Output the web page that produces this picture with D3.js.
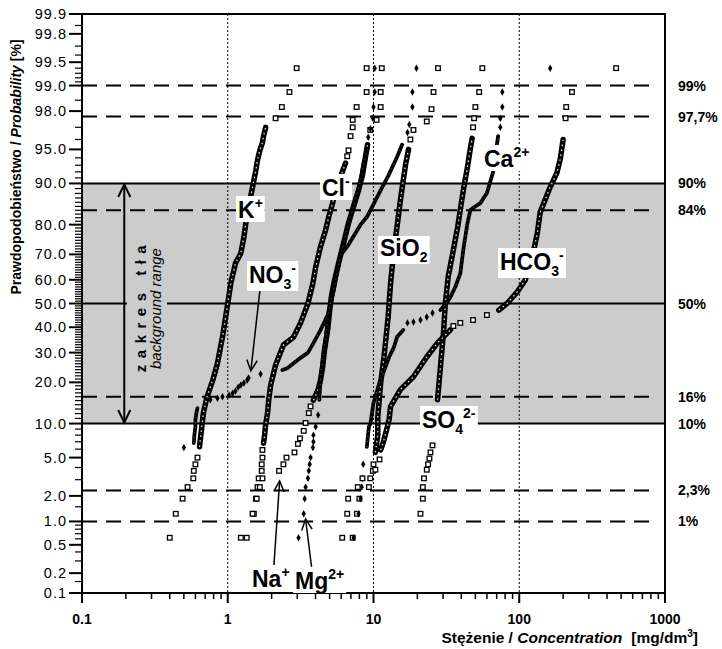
<!DOCTYPE html>
<html>
<head>
<meta charset="utf-8">
<script src="https://cdn.jsdelivr.net/npm/d3@7"></script>
<style>
  body { margin: 0; background: #fff; }
  text { font-family: "Liberation Sans", Arial, Helvetica, sans-serif; }
</style>
</head>
<body>
<svg id="chart" width="722" height="649"></svg>
<script>
// each point: [concentration mg/dm3, cumulative probability %]
const kPts = [[0.40,0.62],[0.44,1.24],[0.49,1.86],[0.53,2.5],[0.58,3.1],[0.585,3.7],[0.60,4.3],[0.62,5.0],[0.64,6.3],[0.66,8.9],[0.68,12.1],[0.72,15.9],[0.79,20.7],[0.85,26.2],[0.92,36],[1.0,50],[1.05,58.6],[1.13,66.7],[1.23,70.4],[1.29,76],[1.33,80.3],[1.39,84.9],[1.48,89.3],[1.56,92.3],[1.60,93.7],[1.66,94.9],[1.73,95.7],[1.76,96.3],[1.82,97.0],[2.13,97.6],[2.35,98.2],[2.65,98.8],[2.97,99.4]]
const no3Pts = [[0.50,6.2],[0.585,6.8],[0.59,8.0],[0.60,9.4],[0.60,10.7],[0.61,12.2],[0.62,13.2],[0.76,15.2],[0.85,15.6],[0.92,16.0],[1.02,16.4],[1.08,16.9],[1.13,17.5],[1.18,18.6],[1.23,19.2],[1.29,19.8],[1.36,20.7],[1.39,21.3],[1.68,22.6],[2.37,23.9],[2.56,24.5],[2.83,26.2],[3.16,28.1],[3.55,30.0],[3.87,33.6],[4.33,38.8],[4.85,45.1],[5.34,55.7],[5.94,69.7],[6.6,72.8],[8.15,80],[9.0,82.2],[10,85.5],[11.2,88.7],[12.6,91.3],[14.5,94.1],[15.7,95.5],[17.1,96.6],[17.6,97.2],[18.5,98.2],[18.5,98.8],[19.7,99.4]]
const clPts = [[1.23,0.62],[1.51,1.24],[1.56,1.86],[1.60,2.5],[1.63,3.1],[1.71,3.7],[1.71,4.3],[1.73,5.0],[1.73,5.9],[1.76,6.8],[1.79,8.0],[1.82,9.8],[1.88,12.4],[1.91,15.2],[1.97,19.2],[2.13,25.6],[2.41,32.9],[2.83,36.0],[3.16,41.8],[3.55,50],[3.84,58.6],[4.01,65.1],[4.33,72.8],[4.69,78.3],[4.93,82.2],[5.24,85.8],[5.49,88.6],[5.94,91.2],[6.2,92.4],[6.43,93.3],[6.6,94.2],[6.74,94.9],[6.96,96.3],[7.2,97.0],[7.2,97.5],[7.66,98.2],[8.97,98.8],[8.97,99.4]]
const naPts = [[1.35,0.62],[1.48,1.24],[1.58,1.86],[1.66,2.5],[1.73,3.1],[2.25,3.7],[2.41,4.3],[2.53,5.0],[2.87,5.6],[3.03,6.7],[3.13,7.5],[3.32,8.7],[3.42,10.1],[3.60,12.1],[3.70,13.6],[3.87,15.1],[4.17,17.9],[4.33,20.7],[4.48,25],[4.61,31],[4.85,39],[5.0,47],[5.16,53.5],[5.41,60],[5.78,67],[6.3,75],[6.74,80.5],[7.3,85],[7.9,88.7],[8.4,91.5],[9.1,95.5],[9.5,96.8],[10.5,97.5],[11.2,98.2],[11.2,98.8],[11.4,99.4]]
const mgPts = [[3.06,0.62],[3.32,1.24],[3.37,1.86],[3.42,2.5],[3.55,3.1],[3.60,3.7],[3.65,4.3],[3.70,5.0],[3.84,6.2],[3.87,7.0],[3.87,8.0],[4.01,9.4],[4.17,11.7],[4.25,15.2],[4.33,20.7],[4.48,27.3],[4.69,34.9],[4.85,43],[5.08,50],[5.41,57.8],[5.70,65.8],[6.2,73.3],[6.58,79],[7.2,84],[7.66,87.6],[8.15,90.6],[8.5,93.1],[9.1,95],[9.2,96.2],[9.53,96.9],[9.9,97.6],[10.0,98.2],[10.2,98.8],[10.2,99.4]]
const sio2Pts = [[7.2,0.62],[7.7,1.24],[8.0,1.86],[9.3,2.5],[9.5,3.1],[9.9,3.7],[10.0,4.3],[10.3,5.6],[10.7,8.0],[10.7,11.3],[11.2,19.8],[11.8,28.4],[12.6,44.3],[13.1,58.6],[13.8,71.6],[14.5,79.3],[15.3,86.5],[16.0,90.6],[16.6,93.1],[17.4,95],[17.9,96.0],[18.8,96.8],[23.2,97.4],[25.0,98.1],[25.8,98.8],[27.7,99.4]]
const so4Pts = [[21.0,1.24],[21.8,1.86],[21.8,2.5],[22.2,3.1],[23.2,3.8],[23.7,4.3],[24.2,4.9],[24.6,5.6],[25.4,6.5],[26.2,8.5],[27.5,15.2],[28.8,25],[30.2,37.6],[31.1,50],[32.5,61],[35.3,71.6],[37.8,79.3],[39.4,84.1],[41.3,88.6],[44.1,92.7],[46.2,95.1],[47.5,96.1],[48.2,97.0],[49.0,97.6],[50.0,98.2],[53.1,98.8],[55.8,99.4]]
const caPts = [[7.3,0.62],[7.9,1.24],[8.15,1.86],[8.3,2.5],[8.4,3.1],[8.5,4.3],[9.0,6.3],[9.3,9.4],[9.53,10],[10,14.4],[11.0,20],[11.9,24],[12.8,28.4],[13.8,32],[14.5,36],[16,38.9],[17.1,41.8],[18.8,42.2],[21.0,43.0],[23.2,44.3],[25.4,46.0],[28.8,47.2],[31.6,50],[33.7,52.7],[36.4,57],[39.4,62.6],[41.3,71.6],[44.1,80.4],[46.2,84.1],[48.2,84.6],[54.1,85.8],[60,88.1],[66,91.9],[71.6,96.3],[74.1,97],[74.1,97.6],[76.5,98.2],[76.5,98.8],[163,99.4]]
const hco3Pts = [[6.1,0.62],[6.6,1.24],[6.7,1.86],[7.8,2.5],[8.4,3.1],[10.3,3.8],[11.0,4.8],[11.2,5.9],[11.7,7.0],[12.3,8.9],[12.8,10.8],[13.1,13.6],[15.3,17.9],[18.8,21.7],[23.2,28.4],[27.5,33.7],[33.7,38.9],[35.3,40.5],[39.4,41.8],[48.2,43.0],[60,45.1],[72.4,47.2],[82.4,50],[96.6,54.8],[110,59.9],[123,69.1],[133,77.3],[139,83.4],[163,89.3],[181,91.8],[191,93.8],[200,96.0],[208,97.6],[210,98.2],[230,98.8],[462,99.4]]

const series = [
  { pts: kPts,    mark: 'square',  dense: [[6, 97]] },
  { pts: clPts,   mark: 'square',  dense: [[6.5, 93.5]] },
  { pts: naPts,   mark: 'square',  dense: [[14, 96]] },
  { pts: mgPts,   mark: 'diamond', dense: [[12, 95]] },
  { pts: no3Pts,  mark: 'diamond', dense: [[6.5, 13.5], [23.5, 95.6]] },
  { pts: sio2Pts, mark: 'square',  dense: [[5, 95.5]] },
  { pts: so4Pts,  mark: 'square',  dense: [[14, 96.5]] },
  { pts: caPts,   mark: 'diamond', dense: [[5, 39.5], [47, 96.5]] },
  { pts: hco3Pts, mark: 'square',  dense: [[5, 39.5], [47, 96.5]] }
]

const xMajor = [0.1, 1, 10, 100, 1000]
const xGrid = [1, 10, 100]
const yMajor = [99.9, 99.8, 99.5, 99, 98, 95, 90, 80, 70, 60, 50, 40, 30, 20, 10, 5, 2, 1, 0.5, 0.2, 0.1]
const yMinorExtra = [99.85, 99.7, 99.6, 99.4, 99.3, 99.2, 99.1, 98.5, 97, 96, 94, 93, 92, 91, 9, 8, 7, 6, 4, 3, 1.5, 0.9, 0.8, 0.7, 0.6, 0.4, 0.3, 0.15]
const refLevels = [99, 97.7, 90, 84, 50, 16, 10, 2.3, 1]
const refLabels = ['99%', '97,7%', '90%', '84%', '50%', '16%', '10%', '2,3%', '1%']
const refSolid = [90, 50, 10]

// inverse of the standard normal CDF (Acklam)
function probit(p) {
  const a = [-3.969683028665376e+01, 2.209460984245205e+02, -2.759285104469687e+02, 1.383577518672690e+02, -3.066479806614716e+01, 2.506628277459239e+00]
  const b = [-5.447609879822406e+01, 1.615858368580409e+02, -1.556989798598866e+02, 6.680131188771972e+01, -1.328068155288572e+01]
  const c = [-7.784894002430293e-03, -3.223964580411365e-01, -2.400758277161838e+00, -2.549732539343734e+00, 4.374664141464968e+00, 2.938163982698783e+00]
  const d = [7.784695709041462e-03, 3.224671290700398e-01, 2.445134137142996e+00, 3.754408661907416e+00]
  const pl = 0.02425
  if (p < pl) {
    const q = Math.sqrt(-2 * Math.log(p))
    return (((((c[0]*q+c[1])*q+c[2])*q+c[3])*q+c[4])*q+c[5]) / ((((d[0]*q+d[1])*q+d[2])*q+d[3])*q+1)
  }
  if (p > 1 - pl) {
    const q = Math.sqrt(-2 * Math.log(1 - p))
    return -(((((c[0]*q+c[1])*q+c[2])*q+c[3])*q+c[4])*q+c[5]) / ((((d[0]*q+d[1])*q+d[2])*q+d[3])*q+1)
  }
  const q = p - 0.5, r = q * q
  return (((((a[0]*r+a[1])*r+a[2])*r+a[3])*r+a[4])*r+a[5])*q / (((((b[0]*r+b[1])*r+b[2])*r+b[3])*r+b[4])*r+1)
}

const plotL = 82, plotR = 665, plotT = 14, plotB = 593
const x = d3.scaleLog().domain([0.1, 1000]).range([plotL, plotR])
const zScale = d3.scaleLinear().domain([probit(0.001), probit(0.999)]).range([plotB, plotT])
const y = p => zScale(probit(p / 100))

const svg = d3.select('#chart')
svg.append('rect').attr('width', 722).attr('height', 649).attr('fill', '#fff')

// background band 10-90 %
svg.append('rect')
  .attr('x', plotL).attr('y', y(90))
  .attr('width', plotR - plotL).attr('height', y(10) - y(90))
  .attr('fill', '#cccccc')

// dotted verticals
svg.selectAll('.vgrid').data(xGrid).enter().append('line')
  .attr('x1', d => x(d)).attr('x2', d => x(d))
  .attr('y1', plotT).attr('y2', plotB)
  .attr('stroke', '#000').attr('stroke-width', 1).attr('stroke-dasharray', '2,2')

// reference lines
svg.selectAll('.ref').data(refLevels).enter().append('line')
  .attr('x1', plotL)
  .attr('x2', d => refSolid.includes(d) ? plotR : plotR - 7)
  .attr('y1', d => y(d)).attr('y2', d => y(d))
  .attr('stroke', '#000').attr('stroke-width', 2)
  .attr('stroke-dasharray', d => refSolid.includes(d) ? null : '15,9')

svg.selectAll('.refLab').data(refLevels).enter().append('text')
  .attr('x', 678).attr('y', d => y(d) + 5)
  .attr('font-size', 14).attr('font-weight', 'bold')
  .text((d, i) => refLabels[i])

// "zakres tla" annotation
const midY = y(50)
svg.append('rect').attr('x', 127).attr('y', midY - 72).attr('width', 40).attr('height', 146).attr('fill', '#cccccc')
svg.append('text')
  .attr('transform', `translate(146,${midY + 2}) rotate(-90)`)
  .attr('text-anchor', 'middle')
  .attr('font-size', 15).attr('font-weight', 'bold').attr('letter-spacing', 6.5)
  .text('zakres tła')
svg.append('text')
  .attr('transform', `translate(161,${midY + 5}) rotate(-90)`)
  .attr('text-anchor', 'middle')
  .attr('font-size', 15).attr('font-style', 'italic')
  .text('background range')

// data
const line = d3.line().x(d => x(d[0])).y(d => y(d[1]))
const gData = svg.append('g')
const inDense = (s, d) => s.dense.some(([lo, hi]) => d[1] >= lo && d[1] <= hi)
series.forEach(s => {
  s.dense.forEach(([lo, hi]) => {
    const run = s.pts.filter(d => d[1] >= lo && d[1] <= hi)
    const sq = s.mark === 'square'
    gData.append('path').datum(run)
      .attr('d', line).attr('fill', 'none').attr('stroke', '#000')
      .attr('stroke-width', sq ? 5.5 : 3.8)
      .attr('stroke-linejoin', 'round').attr('stroke-linecap', 'round')
    // hollow-square texture along the dense run
    gData.append('path').datum(run)
      .attr('d', line).attr('fill', 'none')
      .attr('stroke', sq ? '#fff' : '#cccccc')
      .attr('stroke-width', sq ? 1.3 : 0.8)
      .attr('stroke-dasharray', sq ? '1.6,3.4' : '1,4')
      .attr('opacity', sq ? 0.85 : 0.6)
  })
})
series.forEach(s => {
  const loose = s.pts.filter(d => !inDense(s, d))
  if (s.mark === 'square') {
    gData.selectAll(null).data(loose).enter().append('rect')
      .attr('x', d => x(d[0]) - 2.3).attr('y', d => y(d[1]) - 2.3)
      .attr('width', 4.6).attr('height', 4.6)
      .attr('fill', '#fff').attr('stroke', '#000').attr('stroke-width', 1.3)
  } else {
    gData.selectAll(null).data(loose).enter().append('path')
      .attr('d', d3.symbol(d3.symbolDiamond).size(16))
      .attr('transform', d => `translate(${x(d[0])},${y(d[1])})`)
      .attr('fill', '#000')
  }
})

// arrows (data coordinates)
function chevron(g, x1, y1, x2, y2, len, halfAngle, width) {
  const ang = Math.atan2(y1 - y2, x1 - x2)
  const p = a => [x2 + len * Math.cos(a), y2 + len * Math.sin(a)]
  const a1 = p(ang + halfAngle), a2 = p(ang - halfAngle)
  g.append('path').attr('d', `M${a1[0]},${a1[1]}L${x2},${y2}L${a2[0]},${a2[1]}`)
    .attr('fill', 'none').attr('stroke', '#000').attr('stroke-width', width)
}
function arrow(from, to, width) {
  const x1 = x(from[0]), y1 = y(from[1]), x2 = x(to[0]), y2 = y(to[1])
  svg.append('line').attr('x1', x1).attr('y1', y1).attr('x2', x2).attr('y2', y2)
    .attr('stroke', '#000').attr('stroke-width', width)
  chevron(svg, x1, y1, x2, y2, 12, 0.45, width)
}
arrow([1.66, 55.3], [1.44, 23.6], 1.5)
arrow([2.07, 0.246], [2.27, 2.91], 1.5)
arrow([3.76, 0.246], [3.42, 1.07], 1.5)
// double arrow for background range
{
  const ax = x(0.195)
  svg.append('line').attr('x1', ax).attr('x2', ax).attr('y1', y(90) + 1).attr('y2', y(10) - 1)
    .attr('stroke', '#000').attr('stroke-width', 2)
  chevron(svg, ax, y(50), ax, y(90) + 1, 14, 0.45, 2)
  chevron(svg, ax, y(50), ax, y(10) - 1, 14, 0.45, 2)
}

// frame and axes
svg.append('rect').attr('x', plotL).attr('y', plotT).attr('width', plotR - plotL).attr('height', plotB - plotT)
  .attr('fill', 'none').attr('stroke', '#000').attr('stroke-width', 2)

const yMinor = d3.range(11, 90).filter(v => v % 10 !== 0).concat(yMinorExtra)
svg.selectAll('.ymin').data(yMinor).enter().append('line')
  .attr('x1', plotL - 7).attr('x2', plotL).attr('y1', d => y(d)).attr('y2', d => y(d))
  .attr('stroke', '#000').attr('stroke-width', 1.2)
svg.selectAll('.ymaj').data(yMajor).enter().append('line')
  .attr('x1', plotL - 13).attr('x2', plotL).attr('y1', d => y(d)).attr('y2', d => y(d))
  .attr('stroke', '#000').attr('stroke-width', 2)
svg.selectAll('.ylab').data(yMajor).enter().append('text')
  .attr('x', 67).attr('y', d => y(d) + 5)
  .attr('text-anchor', 'end').attr('font-size', 14.5).attr('letter-spacing', 1)
  .text(d => d3.format('.1f')(d))

const xMinor = []
xMajor.slice(0, -1).forEach(dec => d3.range(2, 10).forEach(m => xMinor.push(dec * m)))
svg.selectAll('.xmin').data(xMinor).enter().append('line')
  .attr('x1', d => x(d)).attr('x2', d => x(d)).attr('y1', plotB).attr('y2', plotB + 6)
  .attr('stroke', '#000').attr('stroke-width', 1.5)
svg.selectAll('.xmaj').data(xMajor).enter().append('line')
  .attr('x1', d => x(d)).attr('x2', d => x(d)).attr('y1', plotB).attr('y2', plotB + 10)
  .attr('stroke', '#000').attr('stroke-width', 2)
svg.selectAll('.xlab').data(xMajor).enter().append('text')
  .attr('x', d => x(d)).attr('y', 624)
  .attr('text-anchor', 'middle').attr('font-size', 14).attr('font-weight', 'bold')
  .text(d => String(d))

// axis titles
const xt = svg.append('text').attr('x', 698).attr('y', 643).attr('text-anchor', 'end')
  .attr('font-size', 15.5).attr('font-weight', 'bold')
xt.append('tspan').text('Stężenie / ')
xt.append('tspan').attr('font-style', 'italic').text('Concentration')
xt.append('tspan').attr('dx', 9).text('[mg/dm')
xt.append('tspan').attr('font-size', 10).attr('dy', -6).text('3')
xt.append('tspan').attr('dy', 6).text(']')

const yt = svg.append('text').attr('transform', 'translate(21,167) rotate(-90)')
  .attr('text-anchor', 'middle').attr('font-size', 14).attr('font-weight', 'bold')
yt.append('tspan').text('Prawdopodobieństwo / ')
yt.append('tspan').attr('font-style', 'italic').text('Probability')
yt.append('tspan').text(' [%]')

// ion labels
const ionLabels = [
  { parts: [['K', 0], ['+', 1]], x: 238, y: 218 },
  { parts: [['Cl', 0], ['-', 1]], x: 322, y: 196 },
  { parts: [['NO', 0], ['3', -1], ['-', 1]], x: 249, y: 283 },
  { parts: [['SiO', 0], ['2', -1]], x: 380, y: 256 },
  { parts: [['Ca', 0], ['2+', 1]], x: 484, y: 167 },
  { parts: [['HCO', 0], ['3', -1], ['-', 1]], x: 500, y: 270 },
  { parts: [['SO', 0], ['4', -1], ['2-', 1]], x: 422, y: 428 },
  { parts: [['Na', 0], ['+', 1]], x: 252, y: 587 },
  { parts: [['Mg', 0], ['2+', 1]], x: 295, y: 589 }
]
ionLabels.forEach(lab => {
  const g = svg.append('g')
  const t = g.append('text').attr('x', lab.x).attr('y', lab.y)
    .attr('font-size', 23).attr('font-weight', 'bold')
  let shift = 0
  lab.parts.forEach(([s, k]) => {
    const target = k === 1 ? -10 : k === -1 ? 6 : 0
    t.append('tspan').attr('dy', target - shift).attr('font-size', k ? 14 : 23).text(s)
    shift = target
  })
  const bb = t.node().getBBox()
  g.insert('rect', () => t.node())
    .attr('x', bb.x - 2).attr('y', bb.y + 1)
    .attr('width', bb.width + 4).attr('height', bb.height - 2)
    .attr('fill', '#fff')
})
</script>
</body>
</html>
